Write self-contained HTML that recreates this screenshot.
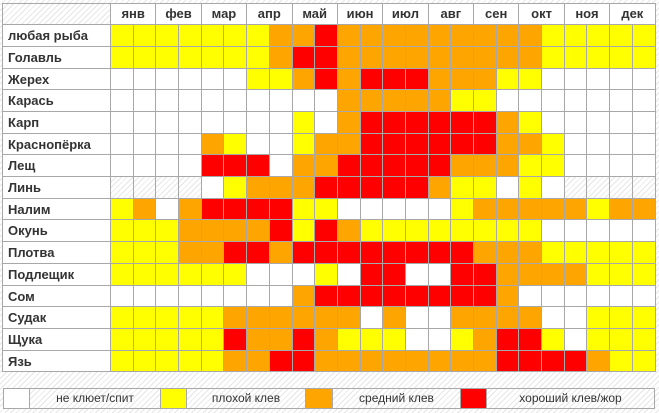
<!DOCTYPE html>
<html><head><meta charset="utf-8">
<style>
html,body{margin:0;padding:0;}
body{width:659px;height:413px;position:relative;overflow:hidden;
background:repeating-linear-gradient(135deg,#fff 0 3px,#e6e6e6 3px 4px);
font-family:"Liberation Sans",Arial,sans-serif;color:#333;}
.hat{background:repeating-linear-gradient(135deg,#fff 0 3px,#e6e6e6 3px 4px);}
#g{position:absolute;left:2px;top:3px;display:grid;
grid-template-columns:107px repeat(24,21.7px);
grid-template-rows:20.3px repeat(16,20.7px);
gap:1px;padding:1px;background:#a8a8a8;}
#g>*{display:block;margin:0;}
.m{grid-column:span 2;background:#fff;font-weight:bold;font-size:13px;text-align:center;line-height:20px;}
.l{background:#fff;font-weight:bold;font-size:13px;line-height:21px;padding-left:5px;white-space:nowrap;}
.w{background:#fff}.y{background:#ffff00}.o{background:#ffa500}.r{background:#ff0000}
.h{background:repeating-linear-gradient(135deg,#fff 0 3px,#e6e6e6 3px 4px);}
#lg{position:absolute;left:3px;top:388px;display:flex;gap:1px;padding:1px;background:#a8a8a8;height:19px;}
#lg>div{height:19px;font-size:12px;line-height:19px;text-align:center;}
</style></head><body>
<div id="g">
<div class="h"></div>
<div class="m">янв</div><div class="m">фев</div><div class="m">мар</div><div class="m">апр</div><div class="m">май</div><div class="m">июн</div><div class="m">июл</div><div class="m">авг</div><div class="m">сен</div><div class="m">окт</div><div class="m">ноя</div><div class="m">дек</div>

<div class="l">любая рыба</div>
<i class="y"></i><i class="y"></i><i class="y"></i><i class="y"></i><i class="y"></i><i class="y"></i><i class="y"></i><i class="o"></i><i class="o"></i><i class="r"></i><i class="o"></i><i class="o"></i><i class="o"></i><i class="o"></i><i class="o"></i><i class="o"></i><i class="o"></i><i class="o"></i><i class="o"></i><i class="y"></i><i class="y"></i><i class="y"></i><i class="y"></i><i class="y"></i>

<div class="l">Голавль</div>
<i class="y"></i><i class="y"></i><i class="y"></i><i class="y"></i><i class="y"></i><i class="y"></i><i class="y"></i><i class="o"></i><i class="r"></i><i class="r"></i><i class="o"></i><i class="o"></i><i class="o"></i><i class="o"></i><i class="o"></i><i class="o"></i><i class="o"></i><i class="o"></i><i class="o"></i><i class="y"></i><i class="y"></i><i class="y"></i><i class="y"></i><i class="y"></i>

<div class="l">Жерех</div>
<i class="w"></i><i class="w"></i><i class="w"></i><i class="w"></i><i class="w"></i><i class="w"></i><i class="y"></i><i class="y"></i><i class="o"></i><i class="r"></i><i class="o"></i><i class="r"></i><i class="r"></i><i class="r"></i><i class="o"></i><i class="o"></i><i class="o"></i><i class="y"></i><i class="y"></i><i class="w"></i><i class="w"></i><i class="w"></i><i class="w"></i><i class="w"></i>

<div class="l">Карась</div>
<i class="w"></i><i class="w"></i><i class="w"></i><i class="w"></i><i class="w"></i><i class="w"></i><i class="w"></i><i class="w"></i><i class="w"></i><i class="w"></i><i class="o"></i><i class="o"></i><i class="o"></i><i class="o"></i><i class="o"></i><i class="y"></i><i class="y"></i><i class="w"></i><i class="w"></i><i class="w"></i><i class="w"></i><i class="w"></i><i class="w"></i><i class="w"></i>

<div class="l">Карп</div>
<i class="w"></i><i class="w"></i><i class="w"></i><i class="w"></i><i class="w"></i><i class="w"></i><i class="w"></i><i class="w"></i><i class="y"></i><i class="w"></i><i class="o"></i><i class="r"></i><i class="r"></i><i class="r"></i><i class="r"></i><i class="r"></i><i class="r"></i><i class="o"></i><i class="y"></i><i class="w"></i><i class="w"></i><i class="w"></i><i class="w"></i><i class="w"></i>

<div class="l">Краснопёрка</div>
<i class="w"></i><i class="w"></i><i class="w"></i><i class="w"></i><i class="o"></i><i class="y"></i><i class="w"></i><i class="w"></i><i class="y"></i><i class="o"></i><i class="o"></i><i class="r"></i><i class="r"></i><i class="r"></i><i class="r"></i><i class="r"></i><i class="r"></i><i class="o"></i><i class="o"></i><i class="y"></i><i class="w"></i><i class="w"></i><i class="w"></i><i class="w"></i>

<div class="l">Лещ</div>
<i class="w"></i><i class="w"></i><i class="w"></i><i class="w"></i><i class="r"></i><i class="r"></i><i class="r"></i><i class="w"></i><i class="o"></i><i class="o"></i><i class="r"></i><i class="r"></i><i class="r"></i><i class="r"></i><i class="r"></i><i class="o"></i><i class="o"></i><i class="o"></i><i class="y"></i><i class="y"></i><i class="w"></i><i class="w"></i><i class="w"></i><i class="w"></i>

<div class="l">Линь</div>
<i class="h"></i><i class="h"></i><i class="h"></i><i class="h"></i><i class="w"></i><i class="y"></i><i class="o"></i><i class="o"></i><i class="o"></i><i class="r"></i><i class="r"></i><i class="r"></i><i class="r"></i><i class="r"></i><i class="o"></i><i class="y"></i><i class="y"></i><i class="w"></i><i class="y"></i><i class="w"></i><i class="h"></i><i class="h"></i><i class="h"></i><i class="h"></i>

<div class="l">Налим</div>
<i class="y"></i><i class="o"></i><i class="w"></i><i class="o"></i><i class="r"></i><i class="r"></i><i class="r"></i><i class="r"></i><i class="y"></i><i class="y"></i><i class="w"></i><i class="w"></i><i class="w"></i><i class="w"></i><i class="w"></i><i class="y"></i><i class="o"></i><i class="o"></i><i class="o"></i><i class="o"></i><i class="o"></i><i class="y"></i><i class="o"></i><i class="o"></i>

<div class="l">Окунь</div>
<i class="y"></i><i class="y"></i><i class="y"></i><i class="o"></i><i class="o"></i><i class="o"></i><i class="o"></i><i class="r"></i><i class="y"></i><i class="r"></i><i class="o"></i><i class="y"></i><i class="y"></i><i class="y"></i><i class="y"></i><i class="y"></i><i class="y"></i><i class="y"></i><i class="y"></i><i class="w"></i><i class="w"></i><i class="w"></i><i class="w"></i><i class="w"></i>

<div class="l">Плотва</div>
<i class="y"></i><i class="y"></i><i class="y"></i><i class="o"></i><i class="o"></i><i class="r"></i><i class="r"></i><i class="o"></i><i class="r"></i><i class="r"></i><i class="r"></i><i class="r"></i><i class="r"></i><i class="r"></i><i class="r"></i><i class="r"></i><i class="o"></i><i class="o"></i><i class="o"></i><i class="y"></i><i class="y"></i><i class="y"></i><i class="y"></i><i class="y"></i>

<div class="l">Подлещик</div>
<i class="y"></i><i class="y"></i><i class="y"></i><i class="y"></i><i class="y"></i><i class="y"></i><i class="w"></i><i class="w"></i><i class="w"></i><i class="y"></i><i class="w"></i><i class="r"></i><i class="r"></i><i class="w"></i><i class="w"></i><i class="r"></i><i class="r"></i><i class="o"></i><i class="o"></i><i class="o"></i><i class="o"></i><i class="y"></i><i class="y"></i><i class="y"></i>

<div class="l">Сом</div>
<i class="w"></i><i class="w"></i><i class="w"></i><i class="w"></i><i class="w"></i><i class="w"></i><i class="w"></i><i class="w"></i><i class="o"></i><i class="r"></i><i class="r"></i><i class="r"></i><i class="r"></i><i class="r"></i><i class="r"></i><i class="r"></i><i class="r"></i><i class="o"></i><i class="w"></i><i class="w"></i><i class="w"></i><i class="w"></i><i class="w"></i><i class="w"></i>

<div class="l">Судак</div>
<i class="y"></i><i class="y"></i><i class="y"></i><i class="y"></i><i class="y"></i><i class="o"></i><i class="o"></i><i class="o"></i><i class="o"></i><i class="o"></i><i class="o"></i><i class="w"></i><i class="o"></i><i class="w"></i><i class="w"></i><i class="o"></i><i class="o"></i><i class="o"></i><i class="o"></i><i class="w"></i><i class="w"></i><i class="y"></i><i class="y"></i><i class="y"></i>

<div class="l">Щука</div>
<i class="y"></i><i class="y"></i><i class="y"></i><i class="y"></i><i class="y"></i><i class="r"></i><i class="o"></i><i class="o"></i><i class="r"></i><i class="o"></i><i class="y"></i><i class="y"></i><i class="y"></i><i class="w"></i><i class="w"></i><i class="y"></i><i class="o"></i><i class="r"></i><i class="r"></i><i class="y"></i><i class="w"></i><i class="y"></i><i class="y"></i><i class="y"></i>

<div class="l">Язь</div>
<i class="y"></i><i class="y"></i><i class="y"></i><i class="y"></i><i class="y"></i><i class="o"></i><i class="o"></i><i class="r"></i><i class="r"></i><i class="o"></i><i class="o"></i><i class="o"></i><i class="o"></i><i class="o"></i><i class="o"></i><i class="o"></i><i class="o"></i><i class="r"></i><i class="r"></i><i class="r"></i><i class="r"></i><i class="o"></i><i class="y"></i><i class="y"></i>
</div>

<div id="lg">
<div class="w" style="width:25px"></div>
<div class="h" style="width:130px">не клюет/спит</div>
<div class="y" style="width:25px"></div>
<div class="h" style="width:118px">плохой клев</div>
<div class="o" style="width:26px"></div>
<div class="h" style="width:127px">средний клев</div>
<div class="r" style="width:25px"></div>
<div class="h" style="width:167px">хороший клев/жор</div>
</div>
</body></html>
